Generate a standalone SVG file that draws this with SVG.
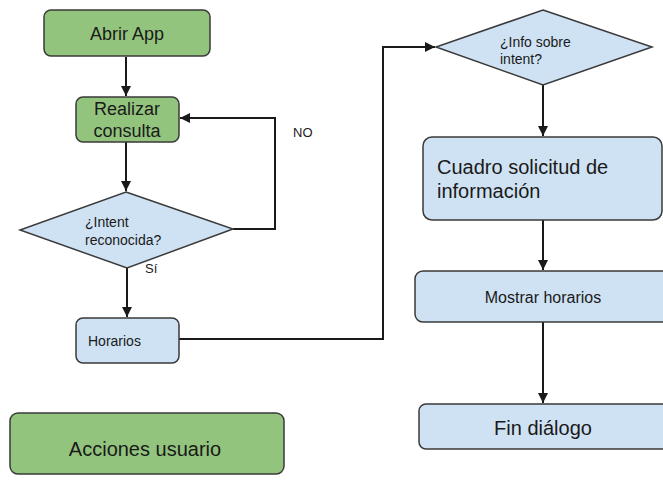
<svg xmlns="http://www.w3.org/2000/svg" width="663" height="481" viewBox="0 0 663 481">
<style>
.g{fill:#93c47d;stroke:#3a3a3a;stroke-width:1.5}
.b{fill:#cfe2f3;stroke:#3a3a3a;stroke-width:1.5}
.t{font-family:"Liberation Sans",Arial,sans-serif;fill:#1a1a1a}
.c{fill:none;stroke:#1a1a1a;stroke-width:2}
</style>
<defs>
<marker id="a" viewBox="0 0 10 10" refX="10" refY="5" markerWidth="10" markerHeight="10" orient="auto" markerUnits="userSpaceOnUse">
<path d="M0,0 L10,5 L0,10 z" fill="#1a1a1a"/>
</marker>
</defs>
<rect width="663" height="481" fill="#ffffff"/>
<g id="connectors">
<path class="c" d="M126,57 V96" marker-end="url(#a)"/>
<path class="c" d="M126,142 V191" marker-end="url(#a)"/>
<path class="c" d="M233,229 H275 V118 H180" marker-end="url(#a)"/>
<path class="c" d="M127,268 V317" marker-end="url(#a)"/>
<path class="c" d="M179,339 H383 V47 H435" marker-end="url(#a)"/>
<path class="c" d="M543,85 V136" marker-end="url(#a)"/>
<path class="c" d="M543,220 V270" marker-end="url(#a)"/>
<path class="c" d="M543,322 V403" marker-end="url(#a)"/>
</g>
<g id="abrir">
<rect class="g" x="44" y="10" width="166" height="46" rx="7"/>
<text class="t" x="127" y="40" font-size="18" text-anchor="middle">Abrir App</text>
</g>
<g id="realizar">
<rect class="g" x="76" y="97" width="103" height="45" rx="7"/>
<text class="t" x="127" y="115" font-size="18" text-anchor="middle">Realizar</text>
<text class="t" x="127" y="137" font-size="18" text-anchor="middle">consulta</text>
</g>
<g id="intent">
<polygon class="b" points="126,192 233,229 127,268 20,230"/>
<text class="t" x="85" y="227" font-size="14">¿Intent</text>
<text class="t" x="85" y="245" font-size="14">reconocida?</text>
</g>
<text class="t" x="293" y="137" font-size="13">NO</text>
<text class="t" x="145" y="273" font-size="13">Sí</text>
<g id="horarios">
<rect class="b" x="76" y="318" width="103" height="45" rx="7"/>
<text class="t" x="88" y="346" font-size="14">Horarios</text>
</g>
<g id="acciones">
<rect class="g" x="10" y="413" width="274" height="61" rx="8"/>
<text class="t" x="145" y="456" font-size="20" text-anchor="middle">Acciones usuario</text>
</g>
<g id="info">
<polygon class="b" points="543,10 652,47 543,85 436,47"/>
<text class="t" x="500" y="47" font-size="14">¿Info sobre</text>
<text class="t" x="500" y="64" font-size="14">intent?</text>
</g>
<g id="cuadro">
<rect class="b" x="423" y="137" width="239" height="83" rx="9"/>
<text class="t" x="437" y="174" font-size="20">Cuadro solicitud de</text>
<text class="t" x="437" y="198" font-size="20">información</text>
</g>
<g id="mostrar">
<rect class="b" x="415" y="271" width="256" height="51" rx="8"/>
<text class="t" x="543" y="303" font-size="16" text-anchor="middle">Mostrar horarios</text>
</g>
<g id="fin">
<rect class="b" x="419" y="404" width="252" height="45" rx="7"/>
<text class="t" x="543" y="435" font-size="20" text-anchor="middle">Fin diálogo</text>
</g>
</svg>
